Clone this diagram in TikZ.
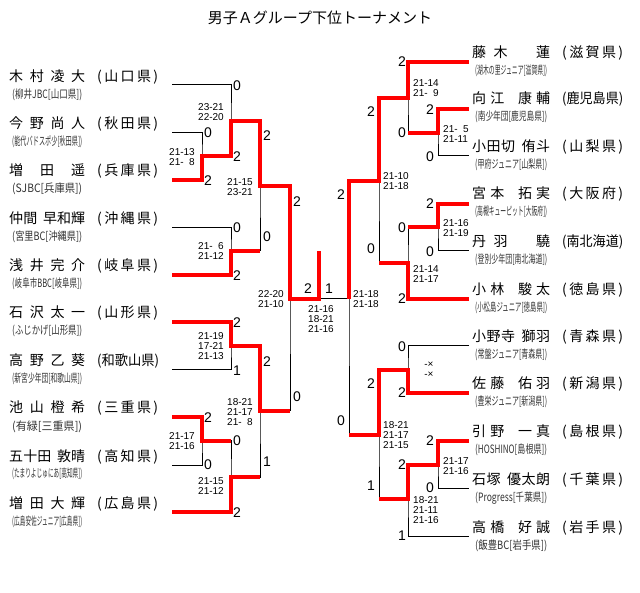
\documentclass[tikz,border=0pt]{standalone}
\usepackage{fontspec}
\usepackage{graphicx}
\setmainfont{Liberation Sans}
\newfontfamily\jp{Noto Sans CJK JP}
\makeatletter
\newcommand\blank{\hbox to 1em{}}
\newcommand\hblank{\hbox to 0.4em{}}
\newcommand\spreadbox[2]{%
  \sbox0{#2}%
  \ifdim\wd0>#1\relax
    \resizebox{#1}{\height}{#2}%
  \else
    \makebox[#1][s]{\let\sp@sep\relax\@tfor\sp@c:=#2\do{\sp@sep\sp@c\let\sp@sep\hfill}}%
  \fi}
\makeatother
\tikzset{
 blk/.style={line width=1pt, black},
 win/.style={line width=3.6pt, red},
 nm/.style={font=\jp\fontsize{14}{14}\selectfont, inner sep=0, anchor=base west},
 cl/.style={font=\jp\fontsize{11.5}{11.5}\selectfont, inner sep=0, anchor=base west, text=black!80},
 lab/.style={font=\fontsize{14}{14}\selectfont, inner sep=0},
 scl/.style={font=\fontsize{10}{10}\selectfont, inner sep=0, align=right, anchor=north east},
 scr/.style={font=\fontsize{10}{10}\selectfont, inner sep=0, align=left, anchor=north west},
 scc/.style={font=\fontsize{10}{10}\selectfont, inner sep=0, align=center, anchor=north},
}
\begin{document}
\begin{tikzpicture}[x=1pt,y=-1pt]
\fill[white] (0,0) rectangle (640,593);
\useasboundingbox (0,0) rectangle (640,593);
\node[font=\jp\fontsize{15}{15}\selectfont, inner sep=0] (title) at (320,18) {男子Ａグループ下位トーナメント};

% ---------- left players ----------
\node[nm] (nL1) at (9,82) {\spreadbox{76pt}{木村凌大}};
\node[nm] (fL1) at (97,82) {\spreadbox{61pt}{(山口県)}};
\node[cl] (cL1) at (12,99) {\spreadbox{70pt}{(柳井JBC[山口県])}};
\node[nm] (nL2) at (9,129) {\spreadbox{76pt}{今野尚人}};
\node[nm] (fL2) at (97,129) {\spreadbox{61pt}{(秋田県)}};
\node[cl] (cL2) at (12,146) {\spreadbox{70pt}{(能代バドスポ少[秋田県])}};
\node[nm] (nL3) at (9,176) {\spreadbox{76pt}{増田遥}};
\node[nm] (fL3) at (97,176) {\spreadbox{61pt}{(兵庫県)}};
\node[cl] (cL3) at (12,193) {\spreadbox{70pt}{(SJBC[兵庫県])}};
\node[nm] (nL4) at (9,224) {\spreadbox{76pt}{仲間{\hblank}早和輝}};
\node[nm] (fL4) at (97,224) {\spreadbox{61pt}{(沖縄県)}};
\node[cl] (cL4) at (12,241) {\spreadbox{70pt}{(宮里BC[沖縄県])}};
\node[nm] (nL5) at (9,271) {\spreadbox{76pt}{浅井完介}};
\node[nm] (fL5) at (97,271) {\spreadbox{61pt}{(岐阜県)}};
\node[cl] (cL5) at (12,288) {\spreadbox{70pt}{(岐阜市BBC[岐阜県])}};
\node[nm] (nL6) at (9,318) {\spreadbox{76pt}{石沢太一}};
\node[nm] (fL6) at (97,318) {\spreadbox{61pt}{(山形県)}};
\node[cl] (cL6) at (12,335) {\spreadbox{70pt}{(ふじかげ[山形県])}};
\node[nm] (nL7) at (9,366) {\spreadbox{76pt}{高野乙葵}};
\node[nm] (fL7) at (97,366) {\spreadbox{62pt}{(和歌山県)}};
\node[cl] (cL7) at (12,383) {\spreadbox{70pt}{(新宮少年団[和歌山県])}};
\node[nm] (nL8) at (9,413) {\spreadbox{76pt}{池山橙希}};
\node[nm] (fL8) at (97,413) {\spreadbox{61pt}{(三重県)}};
\node[cl] (cL8) at (12,430) {\spreadbox{70pt}{(有緑[三重県])}};
\node[nm] (nL9) at (9,461) {\spreadbox{76pt}{五十田{\hblank}敦晴}};
\node[nm] (fL9) at (97,461) {\spreadbox{61pt}{(高知県)}};
\node[cl] (cL9) at (12,478) {\spreadbox{70pt}{(たまりよじゅにあ[高知県])}};
\node[nm] (nL10) at (9,508) {\spreadbox{76pt}{増田大輝}};
\node[nm] (fL10) at (97,508) {\spreadbox{61pt}{(広島県)}};
\node[cl] (cL10) at (12,525) {\spreadbox{70pt}{(広島安佐ジュニア[広島県])}};

% ---------- right players ----------
\node[nm] (nR1) at (472,58) {\spreadbox{78pt}{藤木{\blank}蓮}};
\node[nm] (fR1) at (562,58) {\spreadbox{61pt}{(滋賀県)}};
\node[cl] (cR1) at (475,75) {\spreadbox{72pt}{(湖木の里ジュニア[滋賀県])}};
\node[nm] (nR2) at (472,104) {\spreadbox{78pt}{向江{\hblank}康輔}};
\node[nm] (fR2) at (562,104) {\spreadbox{61pt}{(鹿児島県)}};
\node[cl] (cR2) at (475,121) {\spreadbox{72pt}{(南少年団[鹿児島県])}};
\node[nm] (nR3) at (472,152) {\spreadbox{78pt}{小田切{\hblank}侑斗}};
\node[nm] (fR3) at (562,152) {\spreadbox{61pt}{(山梨県)}};
\node[cl] (cR3) at (475,169) {\spreadbox{72pt}{(甲府ジュニア[山梨県])}};
\node[nm] (nR4) at (472,199) {\spreadbox{78pt}{宮本{\hblank}拓実}};
\node[nm] (fR4) at (562,199) {\spreadbox{61pt}{(大阪府)}};
\node[cl] (cR4) at (475,216) {\spreadbox{72pt}{(高槻キューピット[大阪府])}};
\node[nm] (nR5) at (472,247) {\spreadbox{78pt}{丹羽{\blank}驍}};
\node[nm] (fR5) at (562,247) {\spreadbox{61pt}{(南北海道)}};
\node[cl] (cR5) at (475,264) {\spreadbox{72pt}{(登別少年団[南北海道])}};
\node[nm] (nR6) at (472,295) {\spreadbox{78pt}{小林{\hblank}駿太}};
\node[nm] (fR6) at (562,295) {\spreadbox{61pt}{(徳島県)}};
\node[cl] (cR6) at (475,312) {\spreadbox{72pt}{(小松島ジュニア[徳島県])}};
\node[nm] (nR7) at (472,342) {\spreadbox{78pt}{小野寺{\hblank}獅羽}};
\node[nm] (fR7) at (562,342) {\spreadbox{61pt}{(青森県)}};
\node[cl] (cR7) at (475,359) {\spreadbox{72pt}{(常盤ジュニア[青森県])}};
\node[nm] (nR8) at (472,389) {\spreadbox{78pt}{佐藤{\hblank}佑羽}};
\node[nm] (fR8) at (562,389) {\spreadbox{61pt}{(新潟県)}};
\node[cl] (cR8) at (475,406) {\spreadbox{72pt}{(豊栄ジュニア[新潟県])}};
\node[nm] (nR9) at (472,437) {\spreadbox{78pt}{引野{\hblank}一真}};
\node[nm] (fR9) at (562,437) {\spreadbox{61pt}{(島根県)}};
\node[cl] (cR9) at (475,454) {\spreadbox{72pt}{(HOSHINO[島根県])}};
\node[nm] (nR10) at (472,484) {\spreadbox{78pt}{石塚{\hblank}優太朗}};
\node[nm] (fR10) at (562,484) {\spreadbox{61pt}{(千葉県)}};
\node[cl] (cR10) at (475,501) {\spreadbox{72pt}{(Progress[千葉県])}};
\node[nm] (nR11) at (472,532) {\spreadbox{78pt}{高橋{\hblank}好誠}};
\node[nm] (fR11) at (562,532) {\spreadbox{61pt}{(岩手県)}};
\node[cl] (cR11) at (475,549) {\spreadbox{72pt}{(飯豊BC[岩手県])}};

% ---------- bracket coordinates ----------
\coordinate (pL1) at (172,85);  \coordinate (pL2) at (172,133); \coordinate (pL3) at (172,180);
\coordinate (pL4) at (172,228); \coordinate (pL5) at (172,275); \coordinate (pL6) at (172,322);
\coordinate (pL7) at (172,370); \coordinate (pL8) at (172,417); \coordinate (pL9) at (172,465);
\coordinate (pL10) at (172,512);
\coordinate (mL1) at (202,156); \coordinate (mL2) at (231,121); \coordinate (mL3) at (231,251);
\coordinate (mL4) at (260,186); \coordinate (mL5) at (231,346); \coordinate (mL6) at (202,441);
\coordinate (mL7) at (231,477); \coordinate (mL8) at (260,411); \coordinate (mL9) at (290,299);
\coordinate (champ) at (319,251); \coordinate (fin) at (319,299);
\coordinate (pR1) at (469,62);  \coordinate (pR2) at (469,109); \coordinate (pR3) at (469,156);
\coordinate (pR4) at (469,204); \coordinate (pR5) at (469,251); \coordinate (pR6) at (469,299);
\coordinate (pR7) at (469,346); \coordinate (pR8) at (469,393); \coordinate (pR9) at (469,441);
\coordinate (pR10) at (469,488); \coordinate (pR11) at (469,536);
\coordinate (mR1) at (438,133); \coordinate (mR2) at (408,98);  \coordinate (mR3) at (438,227);
\coordinate (mR4) at (408,263); \coordinate (mR5) at (379,181); \coordinate (mR6) at (408,370);
\coordinate (mR7) at (438,465); \coordinate (mR8) at (408,499); \coordinate (mR9) at (379,435);
\coordinate (mR10) at (349,299);

% ---------- black bracket ----------
\draw[blk] (pL2) -| (mL1) |- (pL3);
\draw[blk] (pL1) -| (mL2) |- (mL1);
\draw[blk] (pL4) -| (mL3) |- (pL5);
\draw[blk] (mL2) -| (mL4) |- (mL3);
\draw[blk] (pL6) -| (mL5) |- (pL7);
\draw[blk] (pL8) -| (mL6) |- (pL9);
\draw[blk] (mL6) -| (mL7) |- (pL10);
\draw[blk] (mL5) -| (mL8) |- (mL7);
\draw[blk] (mL4) -| (mL9) |- (mL8);
\draw[blk] (mL9) -- (mR10);
\draw[blk] (fin) -- (champ);
\draw[blk] (pR2) -| (mR1) |- (pR3);
\draw[blk] (pR1) -| (mR2) |- (mR1);
\draw[blk] (pR4) -| (mR3) |- (pR5);
\draw[blk] (mR3) -| (mR4) |- (pR6);
\draw[blk] (mR2) -| (mR5) |- (mR4);
\draw[blk] (pR7) -| (mR6) |- (pR8);
\draw[blk] (pR9) -| (mR7) |- (pR10);
\draw[blk] (mR7) -| (mR8) |- (pR11);
\draw[blk] (mR6) -| (mR9) |- (mR8);
\draw[blk] (mR5) -| (mR10) |- (mR9);

% ---------- winners ----------
\draw[win] (pL3) -| (mL1) -| (mL2) -| (mL4) -| (mL9) -| (champ);
\draw[win] (pL5) -| (mL3) -- (mL3 -| mL4);
\draw[win] (pL6) -| (mL5) -| (mL8) -- (mL8 -| mL9);
\draw[win] (pL8) -| (mL6) -- (mL6 -| mL7);
\draw[win] (pL10) -| (mL7) -- (mL7 -| mL8);
\draw[win] (pR1) -| (mR2) -| (mR5) -| (mR10);
\draw[win] (pR2) -| (mR1) -- (mR1 -| mR2);
\draw[win] (pR4) -| (mR3) -- (mR3 -| mR4);
\draw[win] (pR6) -| (mR4) -- (mR4 -| mR5);
\draw[win] (pR8) -| (mR6) -| (mR9) -- (mR9 -| mR10);
\draw[win] (pR9) -| (mR7) -| (mR8) -- (mR8 -| mR9);

% ---------- game counts ----------
\node[lab] (g1) at (237,86) {0};
\node[lab] (g2) at (208,133) {0};
\node[lab] (g3) at (208,181) {2};
\node[lab] (g4) at (237,157) {2};
\node[lab] (g5) at (267,136) {2};
\node[lab] (g6) at (237,228) {0};
\node[lab] (g7) at (237,276) {2};
\node[lab] (g8) at (267,237) {0};
\node[lab] (g9) at (297,202) {2};
\node[lab] (g10) at (237,323) {2};
\node[lab] (g11) at (237,371) {1};
\node[lab] (g12) at (267,362) {2};
\node[lab] (g13) at (208,418) {2};
\node[lab] (g14) at (208,465) {0};
\node[lab] (g15) at (237,441) {0};
\node[lab] (g16) at (237,513) {2};
\node[lab] (g17) at (267,462) {1};
\node[lab] (g18) at (297,397) {0};
\node[lab] (g19) at (308,289) {2};
\node[lab] (g20) at (329,289) {1};
\node[lab] (h1) at (402,62) {2};
\node[lab] (h2) at (430,110) {2};
\node[lab] (h3) at (430,157) {0};
\node[lab] (h4) at (402,133) {0};
\node[lab] (h5) at (371,112) {2};
\node[lab] (h6) at (430,204) {2};
\node[lab] (h7) at (430,252) {0};
\node[lab] (h8) at (402,228) {0};
\node[lab] (h9) at (402,299) {2};
\node[lab] (h10) at (371,249) {0};
\node[lab] (h11) at (341,195) {2};
\node[lab] (h12) at (402,347) {0};
\node[lab] (h13) at (402,393) {2};
\node[lab] (h14) at (371,384) {2};
\node[lab] (h15) at (430,441) {2};
\node[lab] (h16) at (430,488) {0};
\node[lab] (h17) at (402,465) {2};
\node[lab] (h18) at (402,536) {1};
\node[lab] (h19) at (371,486) {1};
\node[lab] (h20) at (341,421) {0};

% ---------- scores ----------
\node[scl] (s1) at (224,103.4) {23-21\\22-20};
\node[scl] (s2) at (195,148.4) {21-13\\21-\hphantom{0}8};
\node[scl] (s3) at (253,178.4) {21-15\\23-21};
\node[scl] (s4) at (224,242.4) {21-\hphantom{0}6\\21-12};
\node[scl] (s5) at (284,290.4) {22-20\\21-10};
\node[scl] (s6) at (224,332.4) {21-19\\17-21\\21-13};
\node[scl] (s7) at (253,398.4) {18-21\\21-17\\21-\hphantom{0}8};
\node[scl] (s8) at (195,432.4) {21-17\\21-16};
\node[scl] (s9) at (224,477.4) {21-15\\21-12};
\node[scc] (s10) at (321,305.4) {21-16\\18-21\\21-16};
\node[scr] (t1) at (353,290.4) {21-18\\21-18};
\node[scr] (t2) at (413,79.4) {21-14\\21-\hphantom{0}9};
\node[scr] (t3) at (443,125.4) {21-\hphantom{0}5\\21-11};
\node[scr] (t4) at (383,172.4) {21-10\\21-18};
\node[scr] (t5) at (443,219.4) {21-16\\21-19};
\node[scr] (t6) at (413,265.4) {21-14\\21-17};
\node[scr] (t7) at (413,361.4) {\hphantom{21}-×\\\hphantom{21}-×};
\node[scr] (t8) at (443,457.4) {21-17\\21-16};
\node[scr] (t9) at (383,421.4) {18-21\\21-17\\21-15};
\node[scr] (t10) at (413,496.4) {18-21\\21-11\\21-16};
\end{tikzpicture}
\end{document}
